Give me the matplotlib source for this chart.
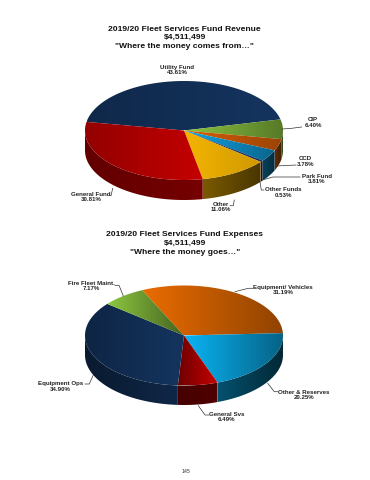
#!/usr/bin/env python3

import numpy as np
import matplotlib
matplotlib.use("Agg")
import matplotlib.pyplot as plt
from matplotlib.colors import LinearSegmentedColormap
from matplotlib.patches import Polygon

WIDTH = 370
HEIGHT = 480

# revenue pie, clockwise from the left edge of the Utility Fund slice
revenue_names = ["Utility Fund", "CIP", "CCD", "Park Fund", "Other Funds", "Other", "General Fund"]
revenue_values = [43.61, 6.40, 3.78, 3.81, 0.53, 11.06, 30.81]
revenue_colors = ["#14345f", "#8cc440", "#d85f08", "#11a4e4", "#1c2f66", "#f4b400", "#c40000"]
revenue_shade = [(0.78, 1.0), (1.0, 0.62), (1.0, 0.72), (1.0, 0.62), (1.0, 1.0), (1.0, 0.85), (0.75, 1.0)]
revenue_side = [(0.5, 0.5), (0.5, 0.35), (0.45, 0.3), (0.4, 0.25), (0.5, 0.4), (0.5, 0.3), (0.5, 0.6)]

# expenses pie, clockwise from the left edge of Equipment/ Vehicles
expense_names = ["Equipment/ Vehicles", "Other & Reserves", "General Svs", "Equipment Ops", "Fire Fleet Maint."]
expense_values = [31.19, 20.25, 6.49, 34.90, 7.17]
expense_colors = ["#ea6c00", "#0ab4f4", "#c80000", "#14345f", "#8cc840"]
expense_shade = [(1.0, 0.62), (1.0, 0.55), (0.55, 1.0), (0.72, 1.0), (1.0, 0.5)]
expense_side = [(0.5, 0.4), (0.45, 0.22), (0.35, 0.4), (0.5, 0.75), (0.5, 0.4)]

revenue_title = '2019/20 Fleet Services Fund Revenue\n$4,511,499\n"Where the money comes from…"'
expense_title = '2019/20 Fleet Services Fund Expenses\n$4,511,499\n"Where the money goes…"'
page_number = "145"


def arc(cx, cy, rx, ry, a0, a1):
    # a0 and a1 in degrees, y axis of the page points down
    t = np.radians(np.linspace(a0, a1, max(int(abs(a1 - a0)), 2) + 1))
    return np.column_stack([cx + rx * np.cos(t), cy - ry * np.sin(t)])


def fill_gradient(ax, points, color, left, right):
    # horizontal shading clipped to the slice outline
    base = np.array(matplotlib.colors.to_rgb(color))
    cmap = LinearSegmentedColormap.from_list("s", [base * left, base * right])
    x0, x1 = points[:, 0].min(), points[:, 0].max()
    y0, y1 = points[:, 1].min(), points[:, 1].max()
    patch = Polygon(points, closed=True, facecolor="none", edgecolor="none", transform=ax.transData)
    ax.add_patch(patch)
    grad = np.linspace(0, 1, 64).reshape(1, -1)
    im = ax.imshow(grad, cmap=cmap, extent=(x0, x1, y1, y0), aspect="auto", zorder=2, interpolation="bilinear")
    im.set_clip_path(patch)


def draw_pie(ax, values, colors, shade, side, start, cx, cy, rx, ry, depth):
    angles = start - np.cumsum([0] + values) * 3.6
    # side wall first, only the front half of the pie shows
    for a0, a1, color, tone in zip(angles[:-1], angles[1:], colors, side):
        for shift in (0, 360):
            hi = min(a0 + shift, 0)
            lo = max(a1 + shift, -180)
            if hi > lo:
                top = arc(cx, cy, rx, ry, hi, lo)
                bottom = arc(cx, cy + depth, rx, ry, lo, hi)
                fill_gradient(ax, np.vstack([top, bottom]), color, tone[0], tone[1])
    for a0, a1, color, tone in zip(angles[:-1], angles[1:], colors, shade):
        points = np.vstack([[cx, cy], arc(cx, cy, rx, ry, a0, a1)])
        fill_gradient(ax, points, color, tone[0], tone[1])


def label(ax, x, y, name, value):
    ax.text(x, y, f"{name}\n{value:.2f}%", ha="center", va="center", fontsize=4.4, fontweight="bold",
            color="#222222", linespacing=1.15, zorder=5)


def leader(ax, xs, ys):
    ax.plot(xs, ys, color="#333333", linewidth=0.5, zorder=4)


plt.rcParams["font.family"] = ["Liberation Sans", "DejaVu Sans"]
fig = plt.figure(figsize=(WIDTH / 100, HEIGHT / 100), dpi=100)
ax = fig.add_axes([0, 0, 1, 1])

draw_pie(ax, revenue_values, revenue_colors, revenue_shade, revenue_side, 170, 184, 130.5, 99, 49.5, 20)
draw_pie(ax, expense_values, expense_colors, expense_shade, expense_side, 115, 184, 335.5, 99, 50, 19.5)

ax.set_xlim(0, WIDTH)
ax.set_ylim(HEIGHT, 0)
ax.axis("off")

ax.text(184.8, 37.7, revenue_title, ha="center", va="center", fontsize=6.1, fontweight="bold",
        color="#111111", linespacing=1.33)
ax.text(184.8, 243.3, expense_title, ha="center", va="center", fontsize=6.1, fontweight="bold",
        color="#111111", linespacing=1.35)

revenue_label_x = [177, 313, 305.7, 317, 283, 221, 91]
revenue_label_y = [70, 122.7, 161.5, 178.8, 192.7, 206.8, 197]
for x, y, name, value in zip(revenue_label_x, revenue_label_y, revenue_names, revenue_values):
    label(ax, x, y, name, value)

expense_label_x = [283, 304, 227, 60.7, 91.5]
expense_label_y = [290, 395, 417, 386.7, 286]
for x, y, name, value in zip(expense_label_x, expense_label_y, expense_names, expense_values):
    label(ax, x, y, name, value)

leader(ax, [282.3, 291.7, 301.7], [129, 128.3, 127])
leader(ax, [276, 296], [166, 165])
leader(ax, [262, 273, 300], [180, 177, 177])
leader(ax, [260, 261.3, 264], [181.7, 190, 190])
leader(ax, [234.3, 233.3, 230], [200, 205.7, 205.7])
leader(ax, [112.7, 111, 110], [188.3, 195.7, 195.7])
leader(ax, [235, 248.3, 252.7], [291.7, 288.3, 288.3])
leader(ax, [267.7, 274.3, 277.7], [383.3, 391.7, 391.7])
leader(ax, [198.3, 205, 209], [405.7, 415, 415])
leader(ax, [93.3, 89.3, 85], [375, 384, 384])
leader(ax, [123.3, 119, 115], [296, 285.3, 285.3])

ax.text(185.5, 471.7, page_number, ha="center", va="center", fontsize=3.8, color="#333333")

fig.savefig("out.png", dpi=100)
